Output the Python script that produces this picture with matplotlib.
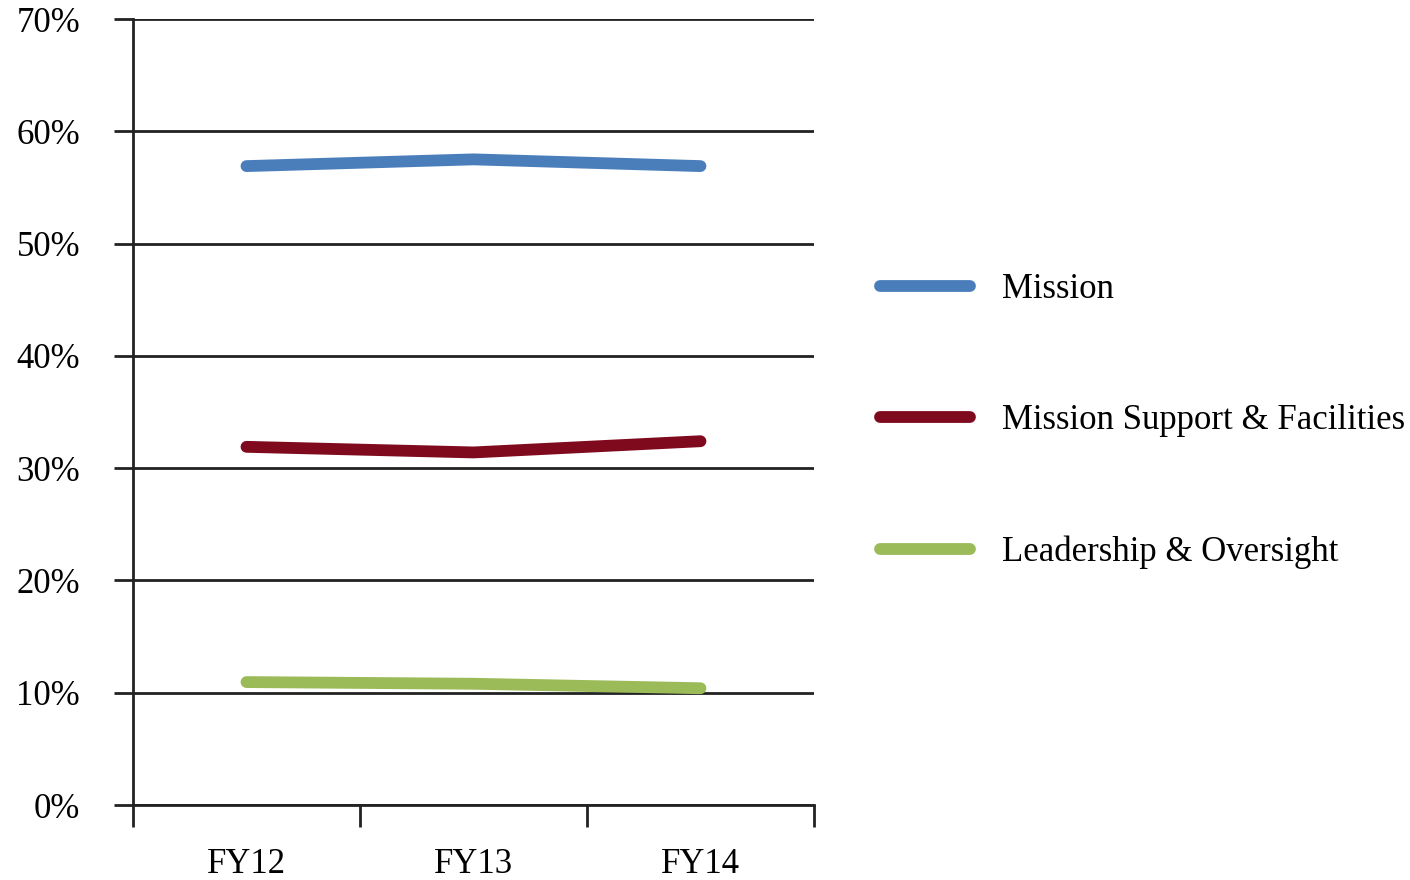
import matplotlib.pyplot as plt
from matplotlib.ticker import FuncFormatter

years = ["FY12", "FY13", "FY14"]
mission = [56.9, 57.5, 56.9]
support = [31.9, 31.4, 32.4]
leadership = [10.95, 10.8, 10.4]

plt.rcParams["font.family"] = ["Liberation Serif", "DejaVu Serif"]

fig = plt.figure(figsize=(14.1, 8.8), dpi=100)
ax = fig.add_axes([0.0943, 0.0852, 0.4830, 0.8932])

x = list(range(len(years)))
lw = 8.5
ax.plot(x, mission, color="#4A7EBB", lw=lw, solid_capstyle="round", label="Mission")
ax.plot(x, support, color="#7F0A1E", lw=lw, solid_capstyle="round", label="Mission Support & Facilities")
ax.plot(x, leadership, color="#9BBB59", lw=lw, solid_capstyle="round", label="Leadership & Oversight")

ax.set_xlim(-0.5, 2.5)
ax.set_ylim(0, 70)
ax.set_yticks(range(0, 71, 10))
ax.yaxis.set_major_formatter(FuncFormatter(lambda v, p: f"{int(v)}%"))
ax.grid(axis="y", color="#222222", lw=2)
ax.set_axisbelow(True)

# category boundaries as major ticks, labels centred on minor ticks
ax.set_xticks([-0.5, 0.5, 1.5, 2.5])
ax.set_xticklabels([])
ax.set_xticks(x, minor=True)
ax.set_xticklabels(years, minor=True)
ax.tick_params(axis="x", which="major", length=16, width=2, color="#222222", direction="out")
ax.tick_params(axis="x", which="minor", length=0, pad=31, labelsize=25)
ax.tick_params(axis="y", length=14, width=2, color="#222222", pad=24, labelsize=25)

for side in ["top", "right"]:
    ax.spines[side].set_visible(False)
for side in ["left", "bottom"]:
    ax.spines[side].set_color("#222222")
    ax.spines[side].set_linewidth(2)

fig.legend(loc="center left", bbox_to_anchor=(0.624, 0.5216), frameon=False,
           fontsize=25, handlelength=2.6, handletextpad=0.92, labelspacing=2.83,
           borderpad=0, borderaxespad=0)

fig.savefig("out.png", dpi=100)
